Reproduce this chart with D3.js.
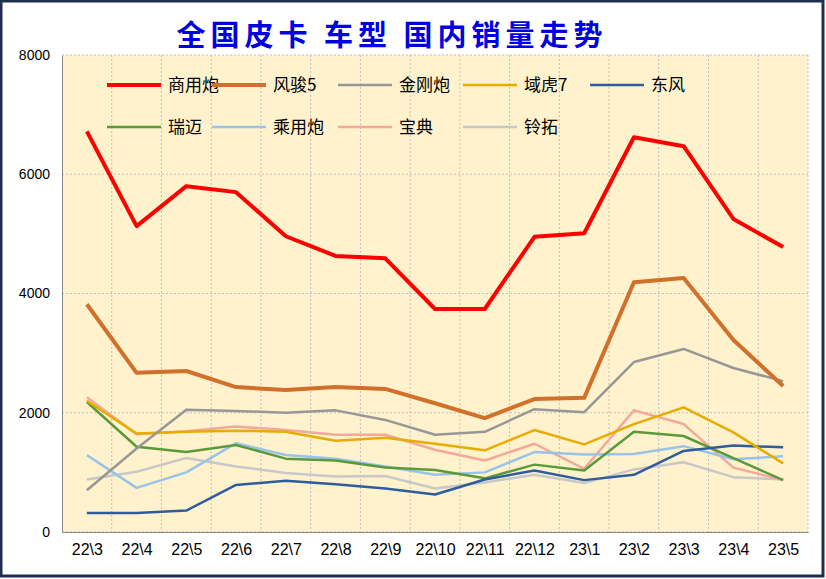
<!DOCTYPE html>
<html><head><meta charset="utf-8">
<script src="https://cdn.jsdelivr.net/npm/d3@7"></script>
<style>body{margin:0;background:#fff}</style>
</head><body>
<svg id="c" width="826" height="579"></svg>
<script>
// categories and series
const months = ["22\\3","22\\4","22\\5","22\\6","22\\7","22\\8","22\\9","22\\10","22\\11","22\\12","23\\1","23\\2","23\\3","23\\4","23\\5"];
const yTicks = [0, 2000, 4000, 6000, 8000];
const names = ["商用炮","风骏5","金刚炮","域虎7","东风","瑞迈","乘用炮","宝典","铃拓"];
const colors = ["#ff0000","#d0702a","#979797","#e6ac00","#2e5c9e","#5b9a3a","#99c3ea","#f2a99a","#c8c8c8"];
const widths = [4,4,2.5,2.5,2.5,2.5,2.5,2.5,2.5];
const shangyong = [6720,5130,5800,5700,4960,4630,4590,3740,3740,4950,5010,6620,6470,5250,4780];
const fengjun5  = [3820,2670,2700,2430,2380,2430,2400,2160,1910,2230,2250,4190,4260,3220,2450];
const jingang   = [700,1400,2050,2030,2000,2040,1880,1630,1680,2060,2010,2850,3070,2750,2530];
const yuhu7     = [2200,1650,1680,1700,1680,1530,1580,1480,1370,1710,1470,1810,2090,1670,1150];
const dongfeng  = [320,320,360,790,860,800,730,630,880,1030,870,960,1360,1450,1420];
const ruimai    = [2180,1430,1340,1460,1230,1200,1080,1040,900,1130,1030,1680,1610,1240,870];
const chengyong = [1290,740,1000,1490,1290,1230,1100,960,1000,1340,1300,1310,1440,1220,1270];
const baodian   = [2260,1640,1690,1770,1710,1630,1630,1380,1200,1480,1060,2040,1810,1080,870];
const lingtuo   = [880,1010,1240,1100,990,930,940,730,830,960,820,1050,1170,920,880];
const seriesValues = [shangyong,fengjun5,jingang,yuhu7,dongfeng,ruimai,chengyong,baodian,lingtuo];

const svg = d3.select("#c");
svg.append("rect").attr("x",1).attr("y",1).attr("width",822).attr("height",575)
  .attr("fill","#fff").attr("stroke","#1f2d4f").attr("stroke-width",3);

const L = 62, R = 808, T = 55, B = 532;
const x = d3.scalePoint().domain(months).range([L, R]).padding(0.5);
const y = d3.scaleLinear().domain([0, 8000]).range([B, T]);

svg.append("rect").attr("x",L).attr("y",T).attr("width",R-L).attr("height",B-T).attr("fill","#fff2cc");

// gridlines
svg.append("g").selectAll("line").data(yTicks).join("line")
  .attr("x1",L).attr("x2",R).attr("y1",d=>y(d)).attr("y2",d=>y(d))
  .attr("stroke","#bfbfbf").attr("stroke-dasharray","2,2");
svg.append("g").selectAll("line").data(months).join("line")
  .attr("x1",d=>x(d)+x.step()/2).attr("x2",d=>x(d)+x.step()/2).attr("y1",T).attr("y2",B)
  .attr("stroke","#bfbfbf").attr("stroke-dasharray","2,2");

svg.append("g").attr("transform",`translate(${L},0)`)
  .call(d3.axisLeft(y).tickValues(yTicks).tickFormat(d3.format("d")).tickSize(0).tickPadding(12))
  .call(g=>g.select(".domain").attr("stroke","#888"))
  .selectAll("text").attr("font-family","Liberation Sans, Arial").attr("font-size",14).attr("fill","#000");
svg.append("g").attr("transform",`translate(0,${B})`)
  .call(d3.axisBottom(x).tickSize(0).tickPadding(12))
  .call(g=>g.select(".domain").attr("stroke","#888"))
  .selectAll("text").attr("font-family","Liberation Sans, Arial").attr("font-size",16).attr("fill","#000");

const line = d3.line().x((d,i)=>x(months[i])).y(d=>y(d));
const order = [8,7,6,5,4,3,2,1,0];
svg.append("g").selectAll("path").data(order).join("path")
  .attr("d",i=>line(seriesValues[i])).attr("fill","none")
  .attr("stroke",i=>colors[i]).attr("stroke-width",i=>widths[i]).attr("stroke-linejoin","round");

// legend
const lx = [107,212,338,463,590], ly = [85,127];
const lg = svg.append("g").selectAll("g").data(names).join("g")
  .attr("transform",(d,i)=>`translate(${lx[i%5]},${ly[Math.floor(i/5)]})`);
lg.append("line").attr("x1",0).attr("x2",54).attr("stroke",(d,i)=>colors[i]).attr("stroke-width",(d,i)=>widths[i]);
lg.append("text").attr("x",61).attr("y",6).text(d=>d)
  .attr("font-family","Noto Sans CJK SC").attr("font-size",17).attr("fill","#000");

svg.append("text").attr("x",392).attr("y",46).attr("text-anchor","middle")
  .attr("font-family","Noto Sans CJK SC").attr("font-weight","bold").attr("font-size",29)
  .attr("fill","#0000e0").attr("letter-spacing",5)
  .text("全国皮卡 车型 国内销量走势");
</script>
</body></html>
